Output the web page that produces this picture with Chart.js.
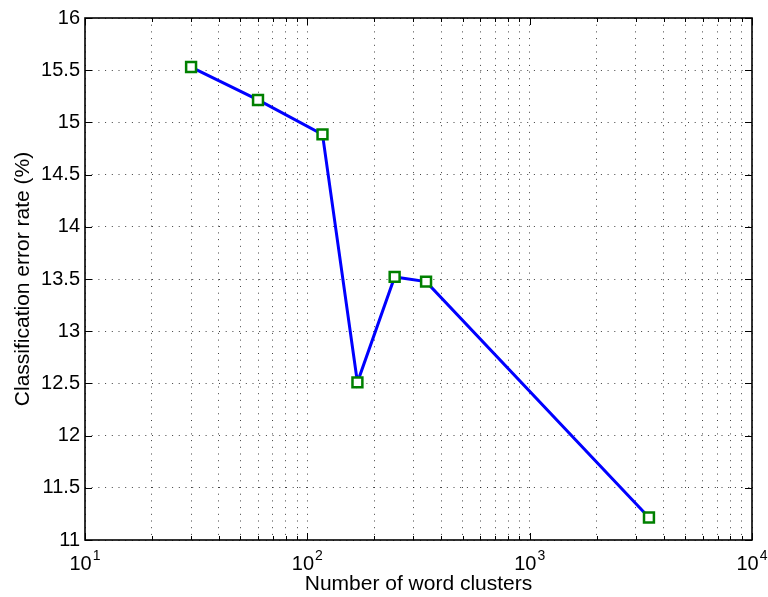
<!DOCTYPE html>
<html>
<head>
<meta charset="utf-8">
<script src="https://cdn.jsdelivr.net/npm/chart.js@4"></script>
<style>
  html, body { margin: 0; padding: 0; background: #fff; }
  canvas { display: block; }
</style>
</head>
<body>
<canvas id="c" width="768" height="597"></canvas>
<script>
// ---- data ----
const clusterCounts = [30, 60, 117, 168, 247, 342, 3440];
const errorRates = [15.53, 15.215, 14.885, 12.51, 13.52, 13.475, 11.215];
const xMajorTicks = [10, 100, 1000, 10000];
const yTickValues = [11, 11.5, 12, 12.5, 13, 13.5, 14, 14.5, 15, 15.5, 16];
const xTitle = 'Number of word clusters';
const yTitle = 'Classification error rate (%)';

const FONT = '"Liberation Sans", Arial, Helvetica, sans-serif';

// minor + major tick list for the log axis
const xAllTicks = [];
for (let d = 0; d < xMajorTicks.length - 1; d++) {
  for (let m = 1; m <= 9; m++) xAllTicks.push(xMajorTicks[d] * m);
}
xAllTicks.push(xMajorTicks[xMajorTicks.length - 1]);

const matlabAxes = {
  id: 'matlabAxes',
  afterDraw(chart) {
    const { ctx, chartArea: a, scales } = chart;
    const xs = scales.x, ys = scales.y;
    ctx.save();
    ctx.strokeStyle = '#000';
    ctx.lineWidth = 1;
    // inner tick marks
    ctx.beginPath();
    ys.ticks.forEach(t => {
      const y = Math.round(ys.getPixelForValue(t.value)) + 0.5;
      ctx.moveTo(a.left, y); ctx.lineTo(a.left + 7, y);
      ctx.moveTo(a.right, y); ctx.lineTo(a.right - 7, y);
    });
    xs.ticks.forEach(t => {
      const x = Math.round(xs.getPixelForValue(t.value)) + 0.5;
      const major = xMajorTicks.includes(t.value);
      const len = major ? 7 : 4;
      ctx.moveTo(x, a.bottom); ctx.lineTo(x, a.bottom - len);
      ctx.moveTo(x, a.top); ctx.lineTo(x, a.top + len);
    });
    ctx.stroke();
    // box
    ctx.lineWidth = 1.6;
    ctx.strokeRect(a.left, a.top, a.right - a.left, a.bottom - a.top);
    // x tick labels with superscripts
    ctx.fillStyle = '#000';
    ctx.textBaseline = 'alphabetic';
    ctx.textAlign = 'left';
    xMajorTicks.forEach(v => {
      const px = xs.getPixelForValue(v);
      const exp = String(Math.round(Math.log10(v)));
      ctx.font = '20px ' + FONT;
      const wBase = ctx.measureText('10').width;
      ctx.font = '14px ' + FONT;
      const wExp = ctx.measureText(exp).width;
      const x0 = px - (wBase + wExp + 1) / 2;
      ctx.font = '20px ' + FONT;
      ctx.fillText('10', x0, a.bottom + 30);
      ctx.font = '14px ' + FONT;
      ctx.fillText(exp, x0 + wBase + 1, a.bottom + 20);
    });
    ctx.restore();
  }
};

new Chart(document.getElementById('c'), {
  type: 'line',
  data: {
    datasets: [{
      data: clusterCounts.map((x, i) => ({ x: x, y: errorRates[i] })),
      borderColor: '#0000ff',
      borderWidth: 3,
      tension: 0,
      fill: false,
      pointStyle: 'rect',
      pointRadius: 7,
      pointBorderWidth: 2.5,
      pointBorderColor: '#008000',
      pointBackgroundColor: '#ffffff'
    }]
  },
  options: {
    responsive: false,
    animation: false,
    devicePixelRatio: 1,
    layout: { padding: { left: 0, right: 16, top: 18, bottom: 0 } },
    plugins: { legend: { display: false }, tooltip: { enabled: false } },
    scales: {
      x: {
        type: 'logarithmic',
        min: 10,
        max: 10000,
        afterBuildTicks(scale) { scale.ticks = xAllTicks.map(v => ({ value: v, major: xMajorTicks.includes(v) })); },
        afterFit(scale) { scale.height = 57; },
        ticks: { display: false, autoSkip: false },
        grid: { color: 'rgba(0,0,0,0.75)', lineWidth: 1, drawTicks: false, borderDash: [1, 5.7] },
        border: { display: false, dash: [1, 5.7] },
        title: {
          display: true, text: xTitle, color: '#000',
          font: { family: FONT, size: 21 }, padding: { top: 0, bottom: 0 }
        }
      },
      y: {
        type: 'linear',
        min: 11,
        max: 16,
        afterBuildTicks(scale) { scale.ticks = yTickValues.map(v => ({ value: v })); },
        afterFit(scale) { scale.width = 85; },
        ticks: {
          autoSkip: false, padding: 5, color: '#000',
          font: { family: FONT, size: 20 },
          callback: v => Number(v).toString()
        },
        grid: { color: 'rgba(0,0,0,0.75)', lineWidth: 1, drawTicks: false, borderDash: [1, 5.7] },
        border: { display: false, dash: [1, 5.7] },
        title: {
          display: true, text: yTitle, color: '#000',
          font: { family: FONT, size: 21 }, padding: { top: 11, bottom: 0 }
        }
      }
    }
  },
  plugins: [matlabAxes]
});
</script>
</body>
</html>
